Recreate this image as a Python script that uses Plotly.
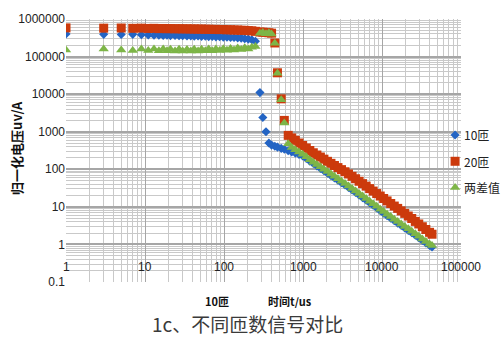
import math
import plotly.graph_objects as go

# ---- data ----
t_us = [1, 3, 5, 7, 9, 11, 13, 15, 17, 19, 21, 24, 27, 30, 34, 38, 42, 47, 52, 58,
        64, 71, 79, 88, 98, 109, 121, 134, 149, 165, 183, 203, 225, 250, 285, 310,
        340, 370, 400, 440, 475, 530, 580, 650, 720, 800, 890, 990, 1100, 1220,
        1350, 1500, 1660, 1840, 2040, 2260, 2500, 2770, 3070, 3400, 3770, 4180,
        4630, 5130, 5680, 6300, 6980, 7730, 8570, 9500, 10500, 11600, 12900, 14300,
        15800, 17500, 19400, 21500, 23800, 26400, 29200, 32400, 35900, 40000, 43000]

turns10 = [400000, 390000, 385000, 390000, 380000, 375000, 370000, 372000, 365000, 368000,
           362000, 365000, 358000, 360000, 355000, 356000, 350000, 352000, 345000, 347000,
           340000, 342000, 335000, 336000, 330000, 330000, 323000, 322000, 315000, 310000,
           300000, 292000, 280000, 255000, 11000, 2400, 1000, 500, 440, 410,
           390, 360, 340, 310, 290, 270, 250, 225, 195, 165,
           142, 123, 106, 91, 79, 68, 59, 51, 44, 38,
           33, 28, 24, 20.6, 17.6, 15.0, 12.8, 11.0, 9.4, 7.9,
           6.8, 5.8, 5.0, 4.3, 3.7, 3.2, 2.75, 2.35, 2.05, 1.75,
           1.5, 1.28, 1.10, 0.94, 0.86]

turns20 = [580000, 570000, 575000, 565000, 570000, 560000, 565000, 555000, 560000, 552000,
           556000, 548000, 552000, 545000, 548000, 540000, 544000, 536000, 540000, 532000,
           535000, 527000, 530000, 522000, 525000, 516000, 518000, 508000, 510000, 500000,
           500000, 490000, 485000, 470000, 450000, 445000, 440000, 430000, 420000, 230000,
           37000, 7500, 2000, 800, 685, 590, 500, 430, 370, 316,
           275, 240, 212, 186, 163, 144, 126, 111, 98, 86,
           75, 65, 56, 48, 41.5, 35.6, 30.6, 26.3, 22.6, 19.4,
           16.7, 14.4, 12.3, 10.5, 9.1, 7.8, 6.7, 5.7, 4.9, 4.1,
           3.5, 2.96, 2.5, 2.1, 1.87]

diff = [150000, 160000, 150000, 145000, 160000, 145000, 160000, 143000, 158000, 142000,
        157000, 141000, 156000, 140000, 155000, 140000, 156000, 141000, 157000, 142000,
        158000, 143000, 160000, 145000, 162000, 147000, 165000, 150000, 168000, 155000,
        172000, 160000, 178000, 185000, 420000, 440000, 405000, 430000, 400000, 225000,
        36000, 7100, 1700, 480, 380, 330, 290, 250, 215, 180,
        155, 135, 117, 100, 87, 75, 65, 56, 48, 42,
        36, 31, 26.5, 22.7, 19.4, 16.6, 14.2, 12.1, 10.3, 8.7,
        7.5, 6.4, 5.5, 4.7, 4.1, 3.5, 3.0, 2.6, 2.25, 1.92,
        1.65, 1.40, 1.20, 1.02, 0.93]

series_names = ["10匝", "20匝", "两差值"]
series_colors = ["#2364C4", "#CC3A0C", "#7DB547"]
series_symbols = ["diamond", "square", "triangle-up"]
series_sizes = [7, 9, 9]

x_tick_vals = [1, 10, 100, 1000, 10000, 100000]
x_tick_text = ["1", "10", "100", "1000", "10000", "100000"]
y_tick_vals = [0.1, 1, 10, 100, 1000, 10000, 100000, 1000000]
y_tick_text = ["0.1", "1", "10", "100", "1000", "10000", "100000", "1000000"]

tick_font = dict(family="Liberation Sans Narrow, Liberation Sans, Arial", size=12, color="#222222")
cjk = "Noto Sans CJK SC"

fig = go.Figure()
for ys, name, col, sym, sz in zip([turns10, turns20, diff], series_names,
                                   series_colors, series_symbols, series_sizes):
    fig.add_trace(go.Scatter(x=t_us, y=ys, mode="markers", name=name, showlegend=False,
                             marker=dict(symbol=sym, color=col, size=sz, line=dict(width=0))))

# manual legend (markers just inside plot edge, text outside)
leg_y = [0.559, 0.459, 0.359]
for name, col, sym, sz, ly in zip(series_names, series_colors, series_symbols,
                                  series_sizes, leg_y):
    fig.add_trace(go.Scatter(x=[0.985], y=[ly], xaxis="x2", yaxis="y2", mode="markers",
                             showlegend=False, cliponaxis=False, hoverinfo="skip",
                             marker=dict(symbol=sym, color=col, size=sz, line=dict(width=0))))
    fig.add_annotation(x=1.002, y=ly, xref="paper", yref="paper", text=name,
                       showarrow=False, xanchor="left", yanchor="middle",
                       font=dict(family=cjk, size=12, color="#222222"))

# x tick labels drawn inside the plot just above the bottom edge (log axis -> log10 coords)
for v, s in zip(x_tick_vals, x_tick_text):
    fig.add_annotation(x=math.log10(v), xref="x", y=0, yref="paper", yanchor="bottom", yshift=6,
                       text=s, showarrow=False, xanchor="center", font=tick_font)

fig.add_annotation(x=0.382, y=-0.074, xref="paper", yref="paper", text="<b>10匝</b>",
                   xanchor="center", yanchor="middle", showarrow=False,
                   font=dict(family=cjk, size=11, color="#111111"))
fig.add_annotation(x=0.567, y=-0.074, xref="paper", yref="paper", text="<b>时间t/us</b>",
                   xanchor="center", yanchor="middle", showarrow=False,
                   font=dict(family=cjk, size=11, color="#111111"))
fig.add_annotation(x=-0.124, y=0.51, xref="paper", yref="paper", text="<b>归一化电压uv/A</b>",
                   xanchor="center", yanchor="middle", textangle=-90, showarrow=False,
                   font=dict(family=cjk, size=13, color="#111111"))
fig.add_annotation(x=0.46, y=-0.159, xref="paper", yref="paper", text="1c、不同匝数信号对比",
                   xanchor="center", yanchor="middle", showarrow=False,
                   font=dict(family=cjk, size=19, color="#3A3A3A"))

major = "#A6A6A6"
minor = "#C9C9C9"
fig.update_layout(
    width=501, height=337,
    margin=dict(l=66, r=40, t=12, b=55),
    paper_bgcolor="white", plot_bgcolor="white",
    xaxis=dict(type="log", range=[0, 5], showticklabels=False, ticks="",
               showgrid=True, gridcolor=major, gridwidth=1, zeroline=False, showline=False,
               minor=dict(showgrid=True, gridcolor=minor, gridwidth=1, dtick="D1", ticks="")),
    yaxis=dict(type="log", range=[-1, 6], tickvals=y_tick_vals, ticktext=y_tick_text,
               tickfont=tick_font, ticks="", showgrid=True, gridcolor=major, gridwidth=1.5,
               zeroline=False, showline=False,
               minor=dict(showgrid=True, gridcolor=minor, gridwidth=1, dtick="D1", ticks="")),
    xaxis2=dict(overlaying="x", range=[0, 1], visible=False, domain=[0, 1]),
    yaxis2=dict(overlaying="y", range=[0, 1], visible=False),
)

fig.write_html("out.html")
